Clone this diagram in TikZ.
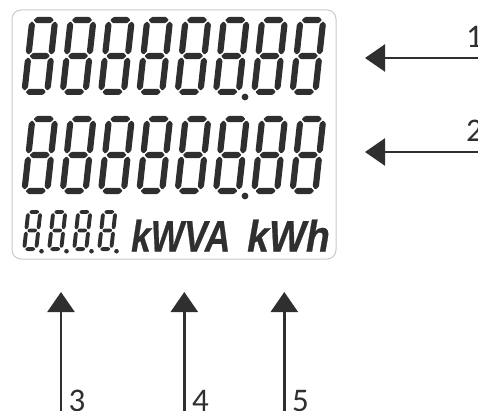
\documentclass[tikz,border=0pt]{standalone}
\usepackage{fontspec}
\setmainfont{Liberation Sans}
\newfontfamily\labelfont{Carlito}
\newfontfamily\unitfont{Liberation Sans}[FakeBold=0.6]
\usetikzlibrary{arrows.meta}
\definecolor{ink}{HTML}{2F2F2F}
\definecolor{frame}{HTML}{C9C9C9}

% horizontal segment: x1, x2, y, half-thickness
\newcommand\lcdhseg[4]{%
  \fill[ink,rounded corners=0.8pt] (#1,#3)--({(#1)+(#4)},{(#3)+(#4)})--({(#2)-(#4)},{(#3)+(#4)})--(#2,#3)--({(#2)-(#4)},{(#3)-(#4)})--({(#1)+(#4)},{(#3)-(#4)})--cycle;}
% vertical segment: x, ytop, ybottom, half-thickness
\newcommand\lcdvseg[4]{%
  \fill[ink,rounded corners=0.8pt] (#1,#2)--({(#1)+(#4)},{(#2)-(#4)})--({(#1)+(#4)},{(#3)+(#4)})--(#1,#3)--({(#1)-(#4)},{(#3)+(#4)})--({(#1)-(#4)},{(#2)-(#4)})--cycle;}
% full "8": x0, y0, W, H, t, slant
\newcommand\lcddigit[6]{%
  \begin{scope}[shift={(#1,#2)},xslant=#6]
    \pgfmathsetmacro\lcdh{(#5)/2}
    \pgfmathsetmacro\lcdg{0.2*(#5)}
    \pgfmathsetmacro\lcdxa{\lcdh+\lcdg}
    \pgfmathsetmacro\lcdxb{(#3)-\lcdh-\lcdg}
    \pgfmathsetmacro\lcdxl{\lcdh}
    \pgfmathsetmacro\lcdxr{(#3)-\lcdh}
    \pgfmathsetmacro\lcdyt{(#4)-\lcdh}
    \pgfmathsetmacro\lcdym{(#4)/2}
    \pgfmathsetmacro\lcdyb{\lcdh}
    \pgfmathsetmacro\lcdta{\lcdyt-\lcdg}
    \pgfmathsetmacro\lcdmu{\lcdym+\lcdg}
    \pgfmathsetmacro\lcdmd{\lcdym-\lcdg}
    \pgfmathsetmacro\lcdba{\lcdyb+\lcdg}
    \lcdhseg{\lcdxa}{\lcdxb}{\lcdyt}{\lcdh}
    \lcdhseg{\lcdxa}{\lcdxb}{\lcdym}{\lcdh}
    \lcdhseg{\lcdxa}{\lcdxb}{\lcdyb}{\lcdh}
    \lcdvseg{\lcdxl}{\lcdta}{\lcdmu}{\lcdh}
    \lcdvseg{\lcdxr}{\lcdta}{\lcdmu}{\lcdh}
    \lcdvseg{\lcdxl}{\lcdmd}{\lcdba}{\lcdh}
    \lcdvseg{\lcdxr}{\lcdmd}{\lcdba}{\lcdh}
  \end{scope}}

\tikzset{
  arr/.style={draw=ink, line width=2.4pt, -{Triangle[length=20pt,width=27pt]}},
  lab/.style={anchor=base west, inner sep=0pt, text=ink, font=\labelfont\fontsize{33}{33}\selectfont},
  unit/.style={anchor=base west, inner sep=0pt, text=ink, font=\unitfont\fontsize{44}{44}\selectfont\bfseries\itshape},
}

\begin{document}
\begin{tikzpicture}[x=1pt,y=1pt]
\useasboundingbox (0,0) rectangle (478,410);
\clip (0,0) rectangle (478,410);

% display frame
\node[draw=frame, line width=1pt, rounded corners=9pt, minimum width=324pt, minimum height=249pt, inner sep=0pt] (lcd) at (174,275.5) {};

% row 1 and row 2 big digits
\foreach \i in {0,...,7} {
  \lcddigit{21+38.3*\i}{315}{29}{78}{6.2}{0.11}
  \lcddigit{21+38.3*\i}{216}{29}{78}{6.2}{0.11}
}
\fill[ink] (245,313) circle (3.4);
\fill[ink] (245,214) circle (3.4);

% small digits
\foreach \i in {0,...,3} {
  \lcddigit{22+25*\i}{159}{16}{41}{3.9}{0.11}
  \fill[ink] ({22+25*\i+19.5},158.8) circle (2.3);
}

% units
\node[unit] (kwva) at (131,158.5) {\scalebox{0.8}[1]{kWVA}};
\node[unit] (kwh) at (247,158.5) {\scalebox{0.89}[1]{kWh}};

% arrows 1, 2
\coordinate (t1) at (365,352); \coordinate (s1) at (482,352);
\coordinate (t2) at (365,258); \coordinate (s2) at (482,258);
\draw[arr] (s1) -- (t1);
\draw[arr] (s2) -- (t2);
\node[lab] (n1) at (466,362) {1};
\node[lab] (n2) at (466,269) {2};

% arrows 3, 4, 5
\coordinate (t3) at (61,118);    \coordinate (s3) at (61,-5);
\coordinate (t4) at (184.3,118); \coordinate (s4) at (184.3,-5);
\coordinate (t5) at (284.3,118); \coordinate (s5) at (284.3,-5);
\draw[arr] (s3) -- (t3);
\draw[arr] (s4) -- (t4);
\draw[arr] (s5) -- (t5);
\node[lab] (n3) at (68.5,-1) {3};
\node[lab] (n4) at (191.8,-1) {4};
\node[lab] (n5) at (291.8,-1) {5};
\end{tikzpicture}
\end{document}
